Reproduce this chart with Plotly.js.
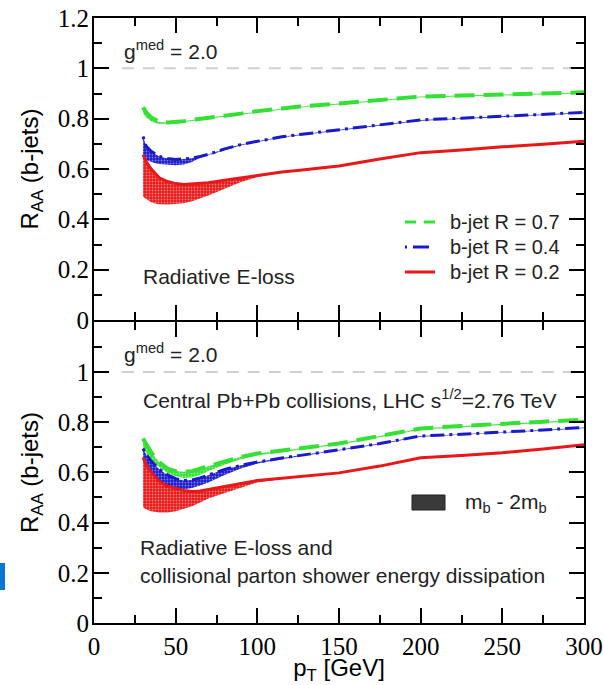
<!DOCTYPE html>
<html><head><meta charset="utf-8">
<script src="https://cdn.plot.ly/plotly-3.0.1.min.js"></script>
<style>html,body{margin:0;padding:0;background:#fff}#chart{width:604px;height:685px}</style>
</head><body><div id="chart"></div>
<script>
// pT grid [GeV]
const pT = [30,32,35,38,40,45,50,55,60,65,70,80,90,100,115,126,150,175,200,225,250,275,300];

// Upper panel: radiative E-loss (band m_b .. 2m_b -> lo .. hi)
const radR07Hi = [0.845,0.825,0.805,0.792,0.787,0.785,0.787,0.790,0.795,0.800,0.805,0.812,0.820,0.830,0.840,0.848,0.860,0.875,0.888,0.892,0.895,0.900,0.905];
const radR07Lo = [0.822,0.805,0.790,0.782,0.780,0.780,0.783,0.786,0.791,0.796,0.801,0.808,0.816,0.826,0.836,0.844,0.856,0.871,0.884,0.888,0.891,0.896,0.901];
const radR04Hi = [0.729,0.690,0.670,0.657,0.650,0.642,0.638,0.640,0.643,0.650,0.658,0.680,0.697,0.710,0.728,0.737,0.755,0.775,0.795,0.802,0.810,0.817,0.825];
const radR04Lo = [0.640,0.635,0.628,0.622,0.620,0.616,0.615,0.618,0.628,0.645,0.655,0.677,0.694,0.707,0.725,0.734,0.752,0.772,0.792,0.799,0.807,0.814,0.822];
const radR02Hi = [0.657,0.630,0.600,0.577,0.565,0.550,0.542,0.538,0.540,0.542,0.545,0.555,0.565,0.575,0.588,0.595,0.612,0.640,0.665,0.675,0.688,0.698,0.710];
const radR02Lo = [0.490,0.480,0.468,0.462,0.460,0.459,0.461,0.464,0.472,0.482,0.495,0.522,0.548,0.568,0.585,0.592,0.609,0.637,0.662,0.672,0.685,0.695,0.707];

// Lower panel: radiative + collisional parton shower energy dissipation
const colR07Hi = [0.735,0.710,0.680,0.655,0.640,0.615,0.605,0.602,0.605,0.615,0.625,0.645,0.662,0.675,0.687,0.695,0.715,0.745,0.775,0.785,0.795,0.802,0.810];
const colR07Lo = [0.700,0.675,0.650,0.632,0.620,0.598,0.585,0.578,0.580,0.590,0.605,0.630,0.652,0.668,0.682,0.690,0.710,0.740,0.770,0.780,0.790,0.797,0.805];
const colR04Hi = [0.695,0.670,0.645,0.625,0.612,0.590,0.575,0.568,0.570,0.578,0.590,0.612,0.628,0.641,0.657,0.667,0.690,0.715,0.745,0.752,0.759,0.769,0.779];
const colR04Lo = [0.655,0.630,0.600,0.575,0.562,0.545,0.535,0.532,0.538,0.548,0.560,0.590,0.615,0.635,0.653,0.664,0.687,0.712,0.742,0.749,0.756,0.766,0.776];
const colR02Hi = [0.660,0.630,0.600,0.578,0.565,0.545,0.535,0.528,0.524,0.526,0.532,0.544,0.558,0.568,0.577,0.583,0.598,0.625,0.658,0.667,0.678,0.693,0.710];
const colR02Lo = [0.461,0.452,0.445,0.441,0.440,0.440,0.445,0.455,0.465,0.480,0.496,0.518,0.540,0.560,0.574,0.580,0.595,0.622,0.655,0.664,0.675,0.690,0.707];

const seriesNames = ['b-jet R = 0.7','b-jet R = 0.4','b-jet R = 0.2'];
const seriesColors = ['#33e033','#1a1acc','#e81818'];
const seriesDash = ['20px,9px','3px,5px,14px,5px','solid'];
const seriesWidth = [4, 3, 3];

function series(lo, hi, k, xa, ya) {
  const c = seriesColors[k];
  return [
    {x:pT, y:lo, xaxis:xa, yaxis:ya, mode:'lines', line:{width:0, color:c}, showlegend:false, hoverinfo:'skip'},
    {x:pT, y:hi, xaxis:xa, yaxis:ya, mode:'lines', line:{width:0, color:c}, fill:'tonexty', fillcolor:c,
     fillpattern:{shape:'.', bgcolor:c, fgcolor:'#ffffff', fgopacity:0.45, size:3, solidity:0.3},
     showlegend:false, hoverinfo:'skip'},
    {x:pT, y:hi, xaxis:xa, yaxis:ya, mode:'lines', name:seriesNames[k],
     line:{width:seriesWidth[k], color:c, dash:seriesDash[k]}, showlegend:false}
  ];
}

const data = [].concat(
  series(radR07Lo, radR07Hi, 0, 'x2', 'y2'),
  series(radR04Lo, radR04Hi, 1, 'x2', 'y2'),
  series(radR02Lo, radR02Hi, 2, 'x2', 'y2'),
  series(colR07Lo, colR07Hi, 0, 'x', 'y'),
  series(colR04Lo, colR04Hi, 1, 'x', 'y'),
  series(colR02Lo, colR02Hi, 2, 'x', 'y')
);

const SANS = 'Liberation Sans';
const SERIF = 'Liberation Serif';

function axisBase() {
  return {showline:true, linecolor:'#000', linewidth:2, mirror:'ticks', ticks:'inside', ticklen:15,
    tickwidth:2, tickcolor:'#000', showgrid:false, zeroline:false,
    tickfont:{family:SERIF, size:25, color:'#000'}};
}
function minorTicks(d) {
  return {dtick:d, ticks:'inside', ticklen:8, tickwidth:2, tickcolor:'#000', showgrid:false};
}
function titleFont() { return {family:SANS, size:24, color:'#000'}; }
function txtFont() { return {family:SANS, size:21, color:'#222'}; }

const px2x = px => (px - 94) / 490;
const py2y = py => (623 - py) / 605;

const layout = {
  width:604, height:685, margin:{l:94, r:20, t:18, b:62},
  paper_bgcolor:'#fff', plot_bgcolor:'#fff', showlegend:false,
  xaxis: Object.assign(axisBase(), {domain:[0,1], anchor:'y', range:[0,300], dtick:50, minor:minorTicks(25),
    title:{text:'p<sub>T</sub> [GeV]', font:titleFont(), standoff:14}}),
  xaxis2: Object.assign(axisBase(), {domain:[0,1], anchor:'y2', range:[0,300], dtick:50, showticklabels:false,
    minor:minorTicks(25)}),
  yaxis: Object.assign(axisBase(), {domain:[0,py2y(322)], anchor:'x', range:[0,1.199], dtick:0.2, minor:minorTicks(0.1),
    ticklabelstandoff:-2, title:{text:'R<sub>AA</sub> (b-jets)', font:titleFont(), standoff:12}}),
  yaxis2: Object.assign(axisBase(), {domain:[py2y(320),1], anchor:'x2', range:[0,1.2], dtick:0.2, minor:minorTicks(0.1),
    ticklabelstandoff:-2, title:{text:'R<sub>AA</sub> (b-jets)', font:titleFont(), standoff:12}}),
  shapes:[
    {type:'line', xref:'x2', yref:'y2', x0:17, x1:292, y0:1, y1:1, line:{color:'#d0d0d0', width:2, dash:'12px,9px'}},
    {type:'line', xref:'x', yref:'y', x0:17, x1:292, y0:1, y1:1, line:{color:'#d0d0d0', width:2, dash:'12px,9px'}},
    {type:'line', xref:'paper', yref:'paper', x0:px2x(405), x1:px2x(435), y0:py2y(222), y1:py2y(222),
     line:{color:seriesColors[0], width:3, dash:'11px,8px'}},
    {type:'line', xref:'paper', yref:'paper', x0:px2x(405), x1:px2x(435), y0:py2y(247), y1:py2y(247),
     line:{color:seriesColors[1], width:3, dash:'2px,6px,16px,6px'}},
    {type:'line', xref:'paper', yref:'paper', x0:px2x(405), x1:px2x(435), y0:py2y(272), y1:py2y(272),
     line:{color:seriesColors[2], width:3}},
    {type:'rect', xref:'paper', yref:'paper', x0:px2x(412), x1:px2x(445), y0:py2y(510), y1:py2y(495),
     fillcolor:'#3a3a3a', line:{color:'#222', width:1}},
    {type:'rect', xref:'paper', yref:'paper', x0:px2x(0), x1:px2x(5), y0:py2y(590), y1:py2y(563),
     fillcolor:'#0a78d0', line:{width:0}}
  ],
  annotations:[
    {xref:'paper', yref:'paper', x:px2x(448), y:py2y(222), xanchor:'left', yanchor:'middle', showarrow:false,
     text:seriesNames[0], font:{family:SANS, size:20, color:'#222'}},
    {xref:'paper', yref:'paper', x:px2x(448), y:py2y(247), xanchor:'left', yanchor:'middle', showarrow:false,
     text:seriesNames[1], font:{family:SANS, size:20, color:'#222'}},
    {xref:'paper', yref:'paper', x:px2x(448), y:py2y(272), xanchor:'left', yanchor:'middle', showarrow:false,
     text:seriesNames[2], font:{family:SANS, size:20, color:'#222'}},
    {xref:'paper', yref:'paper', x:px2x(122), y:py2y(50), xanchor:'left', yanchor:'middle', showarrow:false,
     text:'g<sup>med</sup> = 2.0', font:txtFont()},
    {xref:'paper', yref:'paper', x:px2x(141), y:py2y(276), xanchor:'left', yanchor:'middle', showarrow:false,
     text:'Radiative E-loss', font:txtFont()},
    {xref:'paper', yref:'paper', x:px2x(122), y:py2y(353), xanchor:'left', yanchor:'middle', showarrow:false,
     text:'g<sup>med</sup> = 2.0', font:txtFont()},
    {xref:'paper', yref:'paper', x:px2x(141), y:py2y(399), xanchor:'left', yanchor:'middle', showarrow:false,
     text:'Central Pb+Pb collisions, LHC s<sup>1/2</sup>=2.76 TeV', font:txtFont()},
    {xref:'paper', yref:'paper', x:px2x(463), y:py2y(503), xanchor:'left', yanchor:'middle', showarrow:false,
     text:'m<sub>b</sub> - 2m<sub>b</sub>', font:txtFont()},
    {xref:'paper', yref:'paper', x:px2x(138), y:py2y(547), xanchor:'left', yanchor:'middle', showarrow:false,
     text:'Radiative E-loss and', font:txtFont()},
    {xref:'paper', yref:'paper', x:px2x(138), y:py2y(575), xanchor:'left', yanchor:'middle', showarrow:false,
     text:'collisional parton shower energy dissipation', font:txtFont()}
  ]
};

Plotly.newPlot('chart', data, layout, {staticPlot:true, displayModeBar:false});
</script>
</body></html>
